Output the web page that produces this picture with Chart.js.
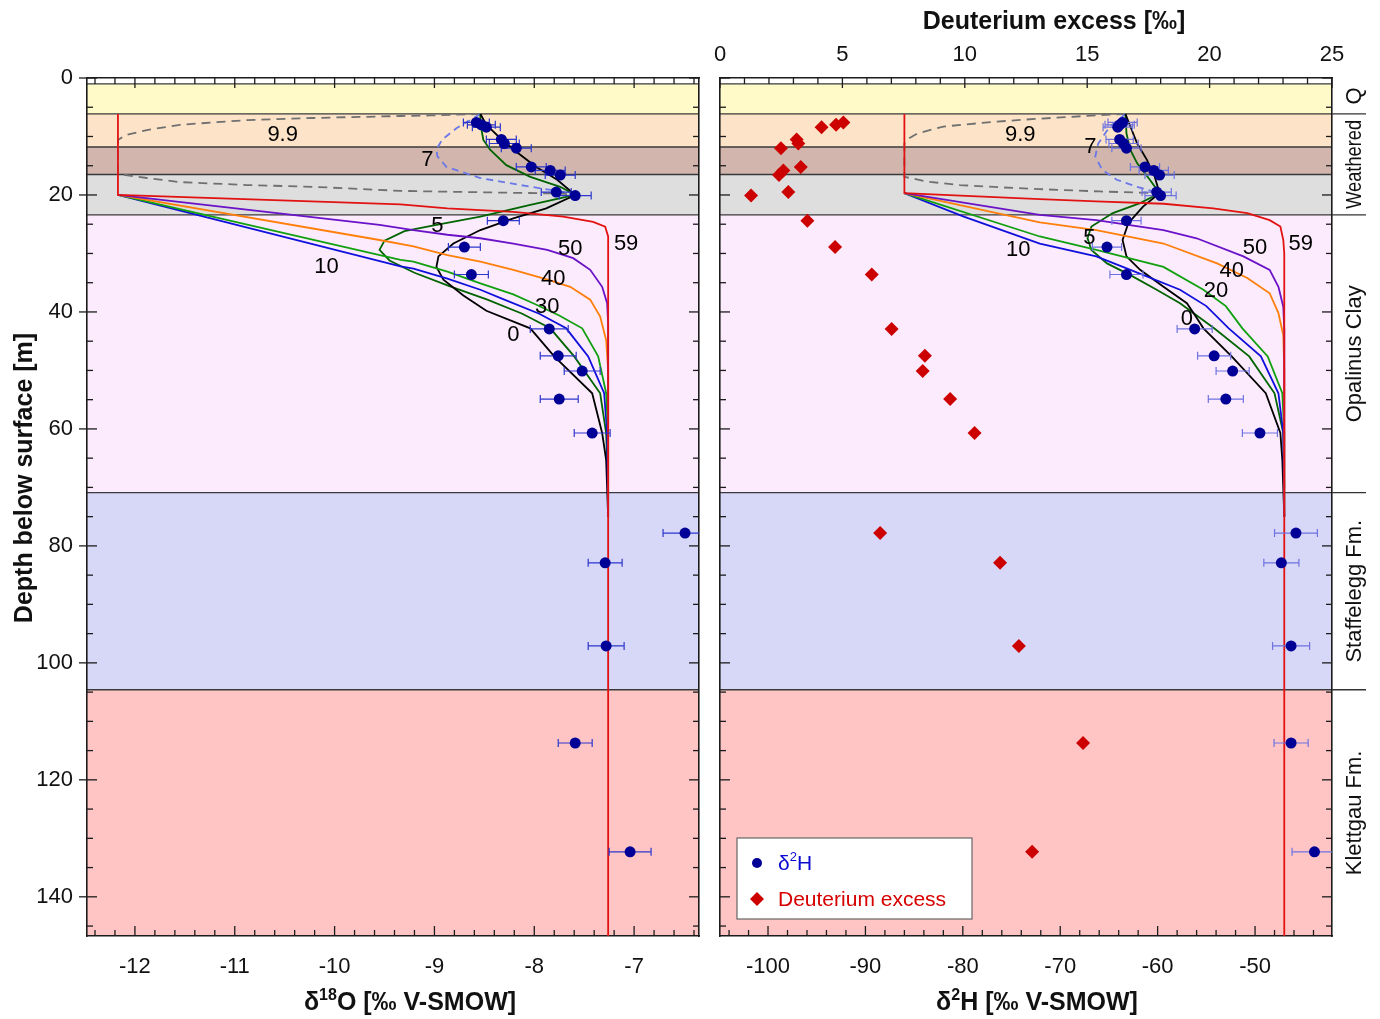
<!DOCTYPE html>
<html>
<head>
<meta charset="utf-8">
<script src="https://cdn.jsdelivr.net/npm/chart.js@4.4.1/dist/chart.umd.min.js"></script>
<style>
  body { margin: 0; background: #fff; }
  #wrap { position: relative; width: 1380px; height: 1019px; }
  canvas { position: absolute; top: 0; }
  #chartO { left: 0; }
  #chartH { left: 705px; }
</style>
</head>
<body>
<div id="wrap">
  <canvas id="chartO" width="705" height="1019" style="width:705px;height:1019px"></canvas>
  <canvas id="chartH" width="675" height="1019" style="width:675px;height:1019px"></canvas>
</div>
<script>
// ---- axes / tick labels ----
const depthMax = 146.7;
const depthLabels = [0, 20, 40, 60, 80, 100, 120, 140];
const d18OLabels = [-12, -11, -10, -9, -8, -7];
const d2HLabels = [-100, -90, -80, -70, -60, -50];
const dexLabels = [0, 5, 10, 15, 20, 25];

// ---- geological layers (depth, m) ----
const bandTop    = [1.0, 6.15, 11.8, 16.5, 23.4, 70.9, 104.6];
const bandBottom = [6.15, 11.8, 16.5, 23.4, 70.9, 104.6, depthMax];
const unitNames  = ['Q', 'Weathered', 'Opalinus Clay', 'Staffelegg Fm.', 'Klettgau Fm.'];
const unitTop    = [0, 6.15, 23.4, 70.9, 104.6];
const unitBottom = [6.15, 23.4, 70.9, 104.6, depthMax];

// ---- measured porewater samples ----
const sampleDepth = [7.6, 8.0, 8.4, 10.5, 11.2, 12.0, 15.2, 15.8, 16.6, 19.5, 20.1, 24.4, 28.9, 33.6,
  42.9, 47.5, 50.1, 54.9, 60.7, 77.8, 82.9, 97.1, 113.7, 132.3];
const d18O = [-8.58, -8.53, -8.48, -8.33, -8.30, -8.18, -8.03, -7.84, -7.74, -7.78, -7.59, -8.31, -8.70, -8.63,
  -7.85, -7.76, -7.52, -7.75, -7.42, -6.49, -7.29, -7.28, -7.59, -7.04];
const d18OErr = [0.13, 0.14, 0.14, 0.15, 0.15, 0.15, 0.15, 0.15, 0.15, 0.15, 0.16, 0.16, 0.16, 0.17,
  0.19, 0.18, 0.18, 0.19, 0.18, 0.22, 0.17, 0.18, 0.17, 0.21];
const d2H = [-63.6, -63.9, -64.1, -63.9, -63.5, -63.2, -61.3, -60.4, -59.8, -60.1, -59.7, -63.2, -65.2, -63.2,
  -56.2, -54.2, -52.3, -53.0, -49.5, -45.8, -47.3, -46.3, -46.3, -43.9];
const d2HErr = [1.5, 1.5, 1.5, 1.4, 1.5, 1.5, 1.5, 1.5, 1.5, 1.5, 1.6, 1.5, 1.5, 1.7,
  1.8, 1.7, 1.7, 1.8, 1.8, 2.2, 1.8, 1.9, 1.75, 2.3];
const dExcess = [5.04, 4.74, 4.15, 3.13, 3.20, 2.49, 3.30, 2.59, 2.41, 2.79, 1.27, 3.57, 4.70, 6.20,
  7.01, 8.37, 8.28, 9.40, 10.40, 6.54, 11.44, 12.21, 14.83, 12.75];

// ---- modelled profiles, [delta, depth] ----
const o18_59 = [[-12.17, 6.15], [-12.17, 20], [-9.34, 21.6], [-8.87, 22.3], [-8.21, 22.9], [-7.71, 23.7],
  [-7.41, 24.6], [-7.29, 25.4], [-7.26, 27.1], [-7.26, depthMax]];
const o18_50 = [[-12.17, 20], [-9.55, 25.1], [-9.21, 26.0], [-8.87, 26.8], [-8.54, 27.4], [-8.21, 28.3],
  [-7.87, 29.4], [-7.61, 30.8], [-7.44, 32.8], [-7.32, 35.7], [-7.27, 38.5], [-7.26, 42], [-7.26, 75]];
const o18_40 = [[-12.17, 20], [-9.55, 27.7], [-9.21, 28.8], [-8.87, 30.3], [-8.54, 31.4], [-8.21, 32.8],
  [-7.9, 34.3], [-7.64, 35.7], [-7.44, 37.9], [-7.34, 40.8], [-7.28, 44.8], [-7.26, 50], [-7.26, 75]];
const o18_30 = [[-12.17, 20], [-9.34, 31.1], [-9.21, 31.4], [-8.87, 33.1], [-8.54, 35.1], [-8.21, 37.0],
  [-8.0, 38.6], [-7.75, 40.6], [-7.52, 42.8], [-7.36, 47.6], [-7.28, 53.9], [-7.26, 60.7], [-7.26, 75]];
const o18_10 = [[-12.17, 20], [-9.34, 32.2], [-9.21, 32.6], [-8.87, 34.3], [-8.54, 36.2], [-8.30, 37.9],
  [-7.95, 40.3], [-7.68, 42.8], [-7.46, 47.6], [-7.30, 53.9], [-7.27, 60.7], [-7.26, 75]];
const o18_5 = [[-8.54, 6.15], [-8.54, 7.75], [-8.51, 10.6], [-8.44, 12.3], [-8.28, 14.9], [-8.04, 16.9],
  [-7.74, 18.6], [-7.59, 20], [-8.04, 21.7], [-8.54, 23.7], [-8.98, 25.1], [-9.30, 26.2], [-9.50, 27.8],
  [-9.55, 29.4], [-9.45, 31.2], [-9.2, 33.3], [-8.85, 35.6], [-8.47, 37.9], [-8.12, 40.3], [-7.84, 42.8],
  [-7.60, 47.6], [-7.34, 53.9], [-7.28, 60.7], [-7.26, 70]];
const o18_0 = [[-8.54, 6.15], [-8.48, 8.0], [-8.34, 10.3], [-8.18, 12.6], [-7.98, 15.2], [-7.77, 17.4],
  [-7.59, 20], [-7.88, 22.3], [-8.21, 24.0], [-8.54, 26.0], [-8.81, 28.3], [-8.96, 30.5], [-8.98, 32.3],
  [-8.91, 34.5], [-8.71, 37.2], [-8.48, 39.8], [-8.04, 42.8], [-7.80, 47.6], [-7.42, 53.9], [-7.32, 60.7],
  [-7.28, 65.3], [-7.26, 75]];
const o18_7 = [[-8.54, 6.15], [-8.64, 7.2], [-8.78, 8.6], [-8.92, 10.5], [-8.98, 12.2], [-8.97, 13.4],
  [-8.88, 15.2], [-8.54, 17.1], [-8.14, 18.3], [-7.74, 19.4], [-7.59, 20]];
const o18_99 = [[-8.54, 6.15], [-9.04, 6.4], [-9.34, 6.5], [-10.22, 6.84], [-10.88, 7.2], [-11.55, 8.0],
  [-11.88, 8.9], [-12.1, 9.8], [-12.17, 10.6], [-12.17, 16.4], [-11.88, 17.1], [-11.55, 17.8], [-10.88, 18.3],
  [-10.22, 18.6], [-9.34, 19.3], [-8.5, 19.55], [-7.74, 19.75], [-7.59, 20]];

const h2_59 = [[-86.0, 6.15], [-86.0, 19.7], [-72.1, 20.7], [-66.3, 21.1], [-59.4, 21.5], [-54.3, 22.3],
  [-50.8, 23.1], [-48.5, 24.3], [-47.4, 25.4], [-47.1, 27.7], [-47.0, 30], [-47.0, depthMax]];
const h2_50 = [[-86.0, 19.7], [-72.1, 23.4], [-66.3, 24.3], [-59.4, 26.0], [-56.0, 27.4], [-51.2, 30.5],
  [-48.5, 32.8], [-47.6, 35.7], [-47.1, 39.1], [-47.0, 43], [-47.0, 75]];
const h2_40 = [[-86.0, 19.7], [-72.1, 24.7], [-66.3, 26.0], [-59.4, 28.3], [-53.9, 31.7], [-50.8, 34.2],
  [-48.5, 36.8], [-47.6, 40.2], [-47.1, 44], [-47.0, 50], [-47.0, 75]];
const h2_20 = [[-86.0, 19.7], [-72.1, 27.1], [-66.3, 29.4], [-59.4, 32.3], [-55.3, 36.2], [-53.0, 39.0],
  [-51.3, 42.8], [-48.7, 47.6], [-47.2, 53.9], [-47.0, 60.7], [-47.0, 75]];
const h2_10 = [[-86.0, 19.7], [-79.9, 23.7], [-72.1, 28.3], [-66.3, 30.5], [-62.8, 32.8], [-57.7, 36.2],
  [-55.0, 39.0], [-52.7, 42.8], [-49.4, 47.6], [-47.6, 53.9], [-47.1, 60.7], [-47.0, 75]];
const h2_5 = [[-63.3, 6.15], [-63.2, 9.5], [-62.8, 12.3], [-62.1, 14.6], [-60.8, 17.4], [-59.8, 19.7],
  [-61.8, 21.4], [-64.6, 23.1], [-66.8, 25.4], [-67.2, 27.4], [-66.8, 29.4], [-65.2, 31.7], [-62.8, 33.7],
  [-60.1, 36.2], [-57.7, 38.5], [-54.2, 42.8], [-50.6, 47.6], [-48.0, 53.9], [-47.1, 60.7], [-47.0, 70]];
const h2_0 = [[-63.3, 6.15], [-62.8, 8.3], [-62.1, 11.2], [-61.1, 14.0], [-60.3, 16.9], [-59.8, 19.7],
  [-61.5, 22.0], [-63.0, 24.8], [-63.6, 27.7], [-63.2, 30.5], [-61.8, 32.8], [-59.4, 35.7], [-57.0, 38.5],
  [-56.2, 40.5], [-55.3, 42.8], [-52.4, 47.6], [-48.9, 53.9], [-47.4, 60.7], [-47.2, 65.3], [-47.0, 75]];
const h2_7 = [[-63.3, 6.15], [-64.9, 8.3], [-66.1, 11.2], [-66.4, 13.4], [-65.7, 15.7], [-64.2, 17.4],
  [-62.1, 18.6], [-59.8, 19.7]];
const h2_99 = [[-63.3, 6.15], [-67.5, 6.5], [-72.6, 7.0], [-76.9, 7.5], [-82.0, 8.3], [-84.7, 9.5],
  [-85.7, 10.5], [-86.0, 11.2], [-86.0, 16.9], [-83.7, 17.7], [-80.3, 18.3], [-76.0, 18.7], [-72.1, 19.0],
  [-66.0, 19.4], [-59.8, 19.7]];

// curve labels (text, delta, depth)
const curveTagsO = [['9.9', -10.52, 9.7], ['7', -9.07, 14.0], ['5', -8.97, 25.3], ['10', -10.08, 32.3],
  ['50', -7.64, 29.2], ['59', -7.08, 28.4], ['40', -7.81, 34.4], ['30', -7.87, 39.1], ['0', -8.21, 43.9]];
const curveTagsH = [['9.9', -74.1, 9.7], ['7', -66.9, 11.8], ['5', -67.0, 27.4], ['10', -74.3, 29.4],
  ['50', -50.0, 29.1], ['59', -45.3, 28.4], ['40', -52.4, 33.0], ['20', -54.0, 36.4], ['0', -57.0, 41.2]];

// ---- styles ----
const FONT = "'Liberation Sans', Arial, Helvetica, sans-serif";
const bandColors = ['#fffac8', '#fde3c7', '#d2b6ad', '#dedede', '#fcebfc', '#d7d7f7', '#ffc5c5'];
const C = { red: '#e31212', purple: '#6a12c8', orange: '#ff7f0a', green: '#10a010', blue: '#1010dc',
  dgreen: '#006400', black: '#000000', bdash: '#6a78e8', gdash: '#707070' };

Chart.defaults.font.family = FONT;
Chart.defaults.color = '#111';

const tickRange = (a, b, step) => {
  const out = [];
  for (let k = Math.round(a / step); k <= Math.round(b / step); k++) out.push(Math.round(k * step * 1000) / 1000);
  return out;
};
const toXY = pairs => pairs.map(p => ({ x: p[0], y: p[1] }));
const zip = (xs, ys) => xs.map((v, i) => ({ x: v, y: ys[i] }));

function curve(pairs, color, dash, xId) {
  return { data: toXY(pairs), showLine: true, borderColor: color, borderWidth: 1.8, borderDash: dash || [],
    pointRadius: 0, tension: 0, fill: false, xAxisID: xId || 'x', yAxisID: 'y' };
}

function axis(o) {
  return {
    type: 'linear', position: o.pos, min: o.min, max: o.max, reverse: !!o.reverse,
    afterBuildTicks: s => { s.ticks = o.ticks.map(v => ({ value: v })); },
    afterFit: s => {
      if (o.pos === 'left' || o.pos === 'right') s.width = o.size; else s.height = o.size;
      // keep the plot area fixed: no extra room for overhanging labels
      s.paddingLeft = s.paddingRight = s.paddingTop = s.paddingBottom = 0;
    },
    grid: { display: false, drawTicks: false },
    border: { display: true, color: '#1c1c1c', width: 1.6 },
    ticks: {
      display: !!o.labels, autoSkip: false, maxRotation: 0, padding: o.pad || 0,
      color: '#111', font: { size: o.font || 22 },
      callback: v => (o.labels && o.labels.some(l => Math.abs(l - v) < 1e-6)) ? String(Math.round(v)) : ''
    }
  };
}

// bands behind everything
const bands = {
  id: 'bands',
  beforeDraw(chart) {
    const { ctx, chartArea: a } = chart;
    const y = chart.scales.y;
    ctx.save();
    bandTop.forEach((t, i) => {
      const y0 = y.getPixelForValue(t), y1 = y.getPixelForValue(bandBottom[i]);
      ctx.fillStyle = bandColors[i];
      ctx.fillRect(a.left, y0, a.right - a.left, y1 - y0);
    });
    ctx.strokeStyle = '#3a3a3a';
    ctx.lineWidth = 1.3;
    bandTop.forEach(t => {
      const p = y.getPixelForValue(t);
      ctx.beginPath(); ctx.moveTo(a.left, p); ctx.lineTo(a.right, p); ctx.stroke();
    });
    ctx.restore();
  }
};

// horizontal error bars under the sample dots
const errorBars = {
  id: 'errorBars',
  beforeDatasetDraw(chart, args) {
    const ds = chart.data.datasets[args.index];
    if (!ds.errX) return;
    const xs = chart.scales[ds.xAxisID], ys = chart.scales[ds.yAxisID];
    const { ctx, chartArea: a } = chart;
    ctx.save();
    ctx.beginPath(); ctx.rect(a.left, a.top, a.right - a.left, a.bottom - a.top); ctx.clip();
    ctx.strokeStyle = ds.errColor;
    ctx.lineWidth = 1.2;
    ds.data.forEach((p, i) => {
      const x0 = xs.getPixelForValue(p.x - ds.errX[i]);
      const x1 = xs.getPixelForValue(p.x + ds.errX[i]);
      const py = ys.getPixelForValue(p.y);
      ctx.beginPath();
      ctx.moveTo(x0, py); ctx.lineTo(x1, py);
      ctx.moveTo(x0, py - 4); ctx.lineTo(x0, py + 4);
      ctx.moveTo(x1, py - 4); ctx.lineTo(x1, py + 4);
      ctx.stroke();
    });
    ctx.restore();
  }
};

// tick marks pointing into the plot
const frameTicks = {
  id: 'frameTicks',
  afterDatasetsDraw(chart, args, opts) {
    const { ctx, chartArea: a } = chart;
    ctx.save();
    ctx.strokeStyle = '#1c1c1c';
    ctx.lineWidth = 1.3;
    Object.keys(opts.major).forEach(id => {
      const s = chart.scales[id], step = opts.major[id];
      s.ticks.forEach(t => {
        const big = Math.abs(t.value / step - Math.round(t.value / step)) < 1e-6;
        const L = big ? 10 : 6;
        const p = s.getPixelForValue(t.value);
        ctx.beginPath();
        if (s.position === 'bottom') { ctx.moveTo(p, a.bottom); ctx.lineTo(p, a.bottom - L); }
        else if (s.position === 'top') { ctx.moveTo(p, a.top); ctx.lineTo(p, a.top + L); }
        else if (s.position === 'left') {
          ctx.moveTo(a.left + L, p); ctx.lineTo(a.left - (big && opts.outLeft ? 8 : 0), p);
        } else { ctx.moveTo(a.right, p); ctx.lineTo(a.right - L, p); }
        ctx.stroke();
      });
    });
    ctx.restore();
  }
};

function richText(ctx, parts, x, y, size, weight, color, align) {
  ctx.save();
  ctx.fillStyle = color;
  ctx.textBaseline = 'middle';
  ctx.textAlign = 'left';
  const fontOf = sup => `${weight} ${sup ? Math.round(size * 0.62) : size}px ${FONT}`;
  let w = 0;
  parts.forEach(p => { ctx.font = fontOf(p.sup); w += ctx.measureText(p.t).width; });
  let cx = align === 'left' ? x : x - w / 2;
  parts.forEach(p => {
    ctx.font = fontOf(p.sup);
    ctx.fillText(p.t, cx, p.sup ? y - size * 0.3 : y);
    cx += ctx.measureText(p.t).width;
  });
  ctx.restore();
}

function drawTags(chart, tags) {
  const { ctx } = chart;
  const xs = chart.scales.x, ys = chart.scales.y;
  ctx.save();
  ctx.font = `22px ${FONT}`;
  ctx.fillStyle = '#000';
  ctx.textAlign = 'center';
  ctx.textBaseline = 'middle';
  tags.forEach(t => ctx.fillText(t[0], xs.getPixelForValue(t[1]), ys.getPixelForValue(t[2])));
  ctx.restore();
}

const notesO = {
  id: 'notesO',
  afterDraw(chart) {
    const { ctx, chartArea: a } = chart;
    drawTags(chart, curveTagsO);
    ctx.save();
    ctx.translate(25, 478);
    ctx.rotate(-Math.PI / 2);
    ctx.font = `bold 25px ${FONT}`;
    ctx.fillStyle = '#111';
    ctx.textAlign = 'center';
    ctx.textBaseline = 'middle';
    ctx.fillText('Depth below surface [m]', 0, 0);
    ctx.restore();
    richText(ctx, [{ t: 'δ' }, { t: '18', sup: true }, { t: 'O [‰ V-SMOW]' }], (a.left + a.right) / 2 + 17, 1003, 25, 'bold', '#111');
  }
};

const notesH = {
  id: 'notesH',
  afterDraw(chart) {
    const { ctx, chartArea: a } = chart;
    const ys = chart.scales.y;
    drawTags(chart, curveTagsH);
    richText(ctx, [{ t: 'δ' }, { t: '2', sup: true }, { t: 'H [‰ V-SMOW]' }], (a.left + a.right) / 2 + 11, 1003, 25, 'bold', '#111');
    richText(ctx, [{ t: 'Deuterium excess [‰]' }], (a.left + a.right) / 2 + 28, 22, 25, 'bold', '#111');

    // unit names in the right margin
    ctx.save();
    ctx.strokeStyle = '#333';
    ctx.lineWidth = 1.3;
    unitTop.slice(1).forEach(t => {
      const p = ys.getPixelForValue(t);
      ctx.beginPath(); ctx.moveTo(a.right, p); ctx.lineTo(a.right + 34, p); ctx.stroke();
    });
    ctx.font = `22px ${FONT}`;
    ctx.fillStyle = '#111';
    ctx.textAlign = 'center';
    ctx.textBaseline = 'middle';
    unitNames.forEach((n, i) => {
      const y0 = ys.getPixelForValue(unitTop[i]), y1 = ys.getPixelForValue(unitBottom[i]);
      ctx.save();
      ctx.translate(a.right + 23, (y0 + y1) / 2);
      ctx.rotate(-Math.PI / 2);
      ctx.fillText(n, 0, 0, Math.abs(y1 - y0) - 12);
      ctx.restore();
    });

    // legend
    const bx = a.left + 17, by = a.bottom - 98;
    ctx.fillStyle = '#fff';
    ctx.fillRect(bx, by, 235, 81);
    ctx.strokeStyle = '#666';
    ctx.lineWidth = 1.2;
    ctx.strokeRect(bx, by, 235, 81);
    ctx.fillStyle = 'rgb(0,0,150)';
    ctx.beginPath(); ctx.arc(bx + 20, by + 25, 5, 0, Math.PI * 2); ctx.fill();
    ctx.fillStyle = 'rgb(205,0,0)';
    ctx.beginPath();
    ctx.moveTo(bx + 20, by + 54); ctx.lineTo(bx + 27, by + 61); ctx.lineTo(bx + 20, by + 68); ctx.lineTo(bx + 13, by + 61);
    ctx.closePath(); ctx.fill();
    ctx.restore();
    richText(ctx, [{ t: 'δ' }, { t: '2', sup: true }, { t: 'H' }], bx + 41, by + 26, 21, 'normal', 'rgb(10,10,210)', 'left');
    richText(ctx, [{ t: 'Deuterium excess' }], bx + 41, by + 62, 21, 'normal', 'rgb(215,0,0)', 'left');
  }
};

const baseOptions = (scales, major, outLeft) => ({
  responsive: false, animation: false, events: [], devicePixelRatio: 1,
  layout: { padding: 0 },
  scales,
  plugins: { legend: { display: false }, tooltip: { enabled: false }, frameTicks: { major, outLeft } }
});

const depthTicks = tickRange(0, 145, 5);

// ---- left panel: δ18O ----
new Chart(document.getElementById('chartO'), {
  type: 'scatter',
  data: {
    datasets: [
      { data: zip(d18O, sampleDepth), errX: d18OErr, errColor: 'rgb(45,55,205)', xAxisID: 'x', yAxisID: 'y',
        pointStyle: 'circle', pointRadius: 5.5, backgroundColor: 'rgb(0,0,150)', borderWidth: 0 },
      curve(o18_59, C.red),
      curve(o18_50, C.purple),
      curve(o18_40, C.orange),
      curve(o18_30, C.green),
      curve(o18_10, C.blue),
      curve(o18_0, C.black),
      curve(o18_5, C.dgreen),
      curve(o18_7, C.bdash, [7, 5]),
      curve(o18_99, C.gdash, [9, 6])
    ]
  },
  options: baseOptions({
    x: axis({ pos: 'bottom', min: -12.48, max: -6.35, ticks: tickRange(-12.4, -6.4, 0.2), labels: d18OLabels, size: 83, pad: 18 }),
    xTop: axis({ pos: 'top', min: -12.48, max: -6.35, ticks: tickRange(-12.4, -6.4, 0.2), size: 78 }),
    y: axis({ pos: 'left', min: 0, max: depthMax, reverse: true, ticks: depthTicks, labels: depthLabels, size: 87, pad: 14 }),
    yR: axis({ pos: 'right', min: 0, max: depthMax, reverse: true, ticks: depthTicks, size: 6 })
  }, { x: 1, xTop: 1, y: 20, yR: 20 }, true),
  plugins: [bands, errorBars, frameTicks, notesO]
});

// ---- right panel: δ2H and deuterium excess ----
new Chart(document.getElementById('chartH'), {
  type: 'scatter',
  data: {
    datasets: [
      { data: zip(d2H, sampleDepth), errX: d2HErr, errColor: 'rgb(110,115,225)', xAxisID: 'x', yAxisID: 'y',
        pointStyle: 'circle', pointRadius: 5.5, backgroundColor: 'rgb(0,0,150)', borderWidth: 0 },
      { data: zip(dExcess, sampleDepth), xAxisID: 'xTop', yAxisID: 'y',
        pointStyle: 'rectRot', pointRadius: 7, backgroundColor: 'rgb(205,0,0)', borderWidth: 0 },
      curve(h2_59, C.red),
      curve(h2_50, C.purple),
      curve(h2_40, C.orange),
      curve(h2_20, C.green),
      curve(h2_10, C.blue),
      curve(h2_0, C.black),
      curve(h2_5, C.dgreen),
      curve(h2_7, C.bdash, [7, 5]),
      curve(h2_99, C.gdash, [9, 6])
    ]
  },
  options: baseOptions({
    x: axis({ pos: 'bottom', min: -104.93, max: -42.1, ticks: tickRange(-104, -44, 2), labels: d2HLabels, size: 83, pad: 18 }),
    xTop: axis({ pos: 'top', min: 0, max: 25, ticks: tickRange(0, 25, 1), labels: dexLabels, size: 78, pad: 10 }),
    y: axis({ pos: 'left', min: 0, max: depthMax, reverse: true, ticks: depthTicks, size: 15 }),
    yR: axis({ pos: 'right', min: 0, max: depthMax, reverse: true, ticks: depthTicks, size: 48 })
  }, { x: 10, xTop: 5, y: 20, yR: 20 }, false),
  plugins: [bands, errorBars, frameTicks, notesH]
});
</script>
</body>
</html>
